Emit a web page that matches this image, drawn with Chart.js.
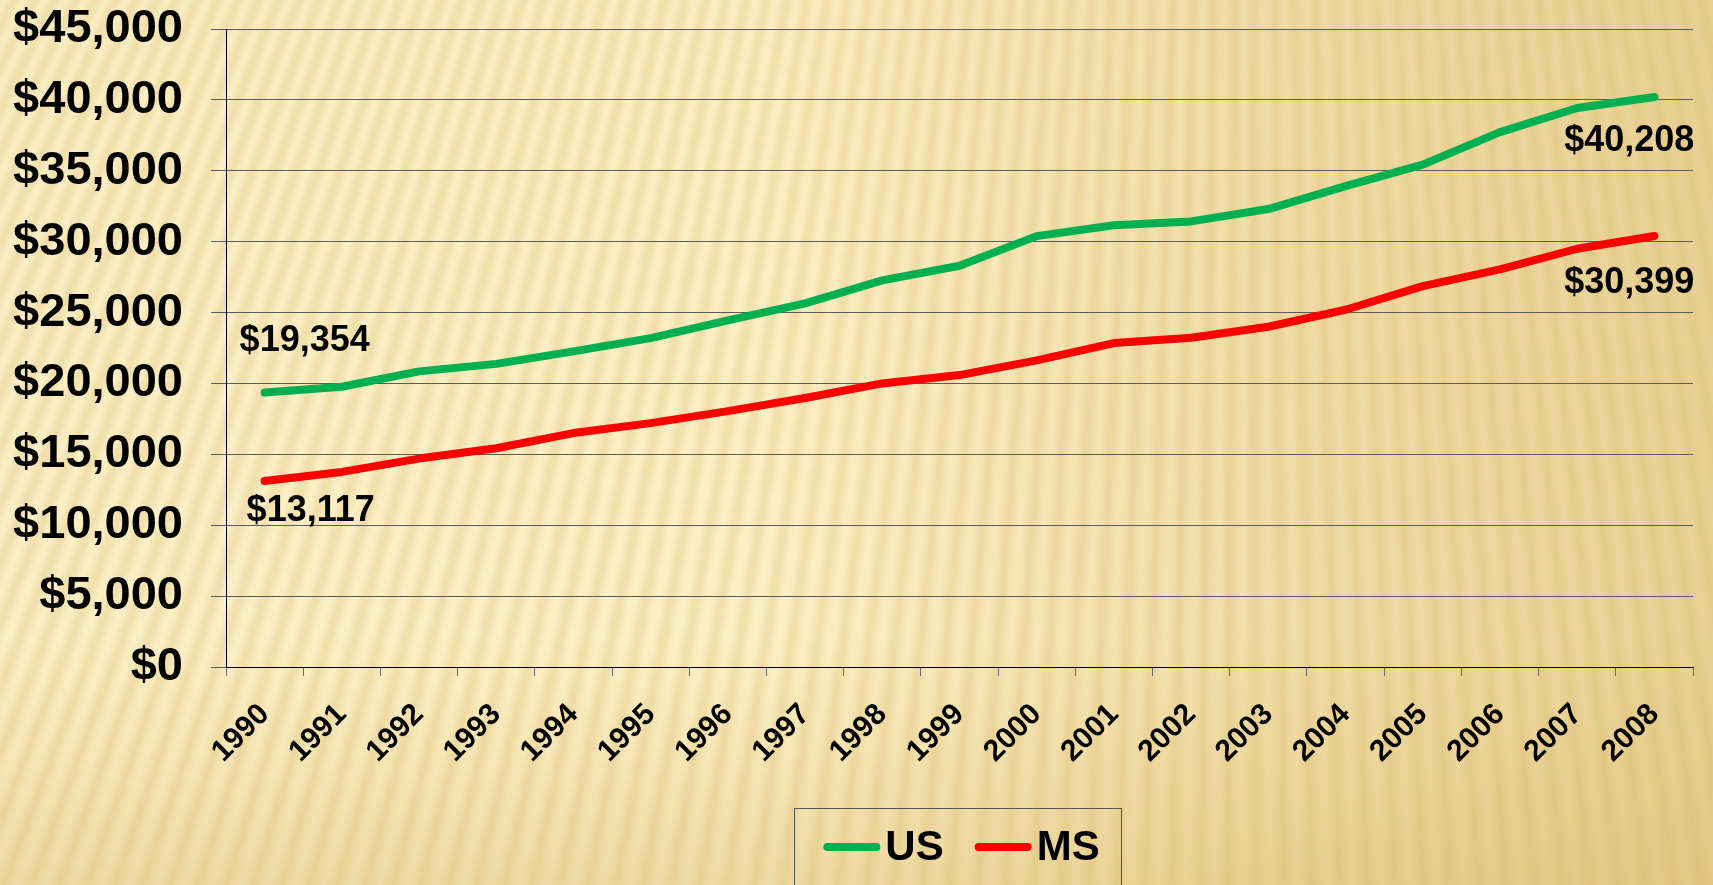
<!DOCTYPE html>
<html>
<head>
<meta charset="utf-8">
<script src="https://cdn.jsdelivr.net/npm/chart.js@4/dist/chart.umd.min.js"></script>
<style>
  html, body { margin: 0; padding: 0; }
  #wrap { width: 1713px; height: 885px; position: relative; }
</style>
</head>
<body>
<div id="wrap"><canvas id="chart"></canvas></div>
<script>
// per capita personal income, US vs Mississippi
const years = ["1990", "1991", "1992", "1993", "1994", "1995", "1996", "1997", "1998", "1999",
  "2000", "2001", "2002", "2003", "2004", "2005", "2006", "2007", "2008"];
const usIncome = [19354, 19770, 20850, 21380, 22260, 23200, 24450, 25650, 27270, 28300,
  30390, 31160, 31430, 32300, 33920, 35430, 37730, 39430, 40208];
const msIncome = [13117, 13760, 14700, 15430, 16500, 17200, 18050, 18970, 20000, 20590,
  21630, 22850, 23220, 24000, 25200, 26860, 28040, 29500, 30399];
const seriesNames = ["US", "MS"];
const yMin = 0;
const yMax = 45000;
const yStep = 5000;

const money = (v) => "$" + Number(v).toLocaleString("en-US");

Chart.defaults.font.family = "'Liberation Sans', Arial, sans-serif";
Chart.defaults.color = "#000";

// textured gold background, stripes fanning from a point above
const backgroundPlugin = {
  id: "background",
  beforeDraw(chart) {
    const { ctx, width, height } = chart;
    ctx.save();
    const g = ctx.createLinearGradient(0, 0, width, 0);
    g.addColorStop(0, "#fcf0c7");
    g.addColorStop(0.45, "#fcf0c6");
    g.addColorStop(0.75, "#f1dea8");
    g.addColorStop(1, "#e9d296");
    ctx.fillStyle = g;
    ctx.fillRect(0, 0, width, height);

    const v = ctx.createLinearGradient(0, 0, 0, height);
    v.addColorStop(0, "rgba(220,190,110,0)");
    v.addColorStop(0.72, "rgba(220,190,110,0)");
    v.addColorStop(1, "rgba(215,180,100,0.35)");
    ctx.fillStyle = v;
    ctx.fillRect(0, 0, width, height);

    ctx.filter = "blur(3px)";
    ctx.strokeStyle = "rgba(214,180,98,0.3)";
    ctx.lineWidth = 10;
    const vx = 1250, vy = -2400;
    for (let xb = -1600; xb < 3000; xb += 28) {
      ctx.beginPath();
      ctx.moveTo(vx, vy);
      ctx.lineTo(xb, height + 20);
      ctx.stroke();
    }
    ctx.restore();
  },
};

// first / last value labels
const endLabelsPlugin = {
  id: "endLabels",
  afterDatasetsDraw(chart) {
    const { ctx } = chart;
    const spots = [
      { ds: 0, first: true, dx: -25, dy: -52, align: "left" },
      { ds: 1, first: true, dx: -18, dy: 30, align: "left" },
      { ds: 0, first: false, dx: 40, dy: 44, align: "right" },
      { ds: 1, first: false, dx: 40, dy: 47, align: "right" },
    ];
    ctx.save();
    ctx.font = "bold 36px 'Liberation Sans', Arial, sans-serif";
    ctx.fillStyle = "#000";
    ctx.textBaseline = "middle";
    spots.forEach((s) => {
      const values = chart.data.datasets[s.ds].data;
      const idx = s.first ? 0 : values.length - 1;
      const pt = chart.getDatasetMeta(s.ds).data[idx];
      ctx.textAlign = s.align;
      ctx.fillText(money(values[idx]), pt.x + s.dx, pt.y + s.dy);
    });
    ctx.restore();
  },
};

// boxed legend under the plot
const boxLegendPlugin = {
  id: "boxLegend",
  afterDraw(chart) {
    const { ctx, chartArea } = chart;
    const lineLen = 49;
    const gap = 5;
    const itemGap = 35;
    const y = 847;
    ctx.save();
    ctx.font = "bold 42px 'Liberation Sans', Arial, sans-serif";
    const items = chart.data.datasets.map((d) => ({
      text: d.label,
      color: d.borderColor,
      w: lineLen + 4 + gap + ctx.measureText(d.label).width,
    }));
    const total = items.reduce((a, it) => a + it.w, 0) + itemGap * (items.length - 1);
    let x = (chartArea.left + chartArea.right) / 2 - total / 2 + 4;
    const left = x - 4 - 29;
    const right = x - 4 + total + 26;
    ctx.strokeStyle = "#555";
    ctx.lineWidth = 1;
    ctx.strokeRect(Math.round(left) + 0.5, 808.5, Math.round(right - left), 120);

    items.forEach((it) => {
      ctx.beginPath();
      ctx.strokeStyle = it.color;
      ctx.lineWidth = 8;
      ctx.lineCap = "round";
      ctx.moveTo(x, y);
      ctx.lineTo(x + lineLen, y);
      ctx.stroke();
      ctx.fillStyle = "#000";
      ctx.textAlign = "left";
      ctx.textBaseline = "middle";
      ctx.fillText(it.text, x + lineLen + 4 + gap, y + 1);
      x += it.w + itemGap;
    });
    ctx.restore();
  },
};

const lineStyle = {
  borderWidth: 8,
  pointRadius: 0,
  pointHoverRadius: 0,
  tension: 0,
  borderCapStyle: "round",
  borderJoinStyle: "round",
  fill: false,
};

new Chart(document.getElementById("chart"), {
  type: "line",
  data: {
    labels: years,
    datasets: [
      { ...lineStyle, label: seriesNames[0], data: usIncome, borderColor: "#00b050", backgroundColor: "#00b050" },
      { ...lineStyle, label: seriesNames[1], data: msIncome, borderColor: "#ff0000", backgroundColor: "#ff0000" },
    ],
  },
  options: {
    responsive: true,
    maintainAspectRatio: false,
    animation: false,
    layout: { padding: { left: 0, right: 20, top: 29, bottom: 0 } },
    plugins: {
      legend: { display: false },
      tooltip: { enabled: false },
    },
    scales: {
      x: {
        type: "category",
        offset: true,
        afterFit(scale) {
          scale.height = 218;
          scale.paddingLeft = 0;
          scale.paddingRight = 0;
        },
        grid: {
          display: true,
          offset: true,
          drawOnChartArea: false,
          drawTicks: true,
          tickLength: 9,
          color: "#6a6a6a",
        },
        border: { display: true, color: "#000", width: 1 },
        ticks: {
          autoSkip: false,
          maxRotation: 45,
          minRotation: 45,
          padding: 21,
          color: "#000",
          font: { size: 30, weight: "bold" },
        },
      },
      y: {
        min: yMin,
        max: yMax,
        afterFit(scale) {
          scale.width = 226;
          scale.paddingTop = 0;
          scale.paddingBottom = 0;
        },
        grid: {
          color: "#5c5c5c",
          lineWidth: 1,
          drawTicks: true,
          tickLength: 15,
        },
        border: { display: true, color: "#000", width: 1 },
        ticks: {
          stepSize: yStep,
          padding: 28,
          color: "#000",
          font: { size: 47, weight: "bold" },
          callback: (v) => money(v),
        },
      },
    },
  },
  plugins: [backgroundPlugin, endLabelsPlugin, boxLegendPlugin],
});
</script>
</body>
</html>
